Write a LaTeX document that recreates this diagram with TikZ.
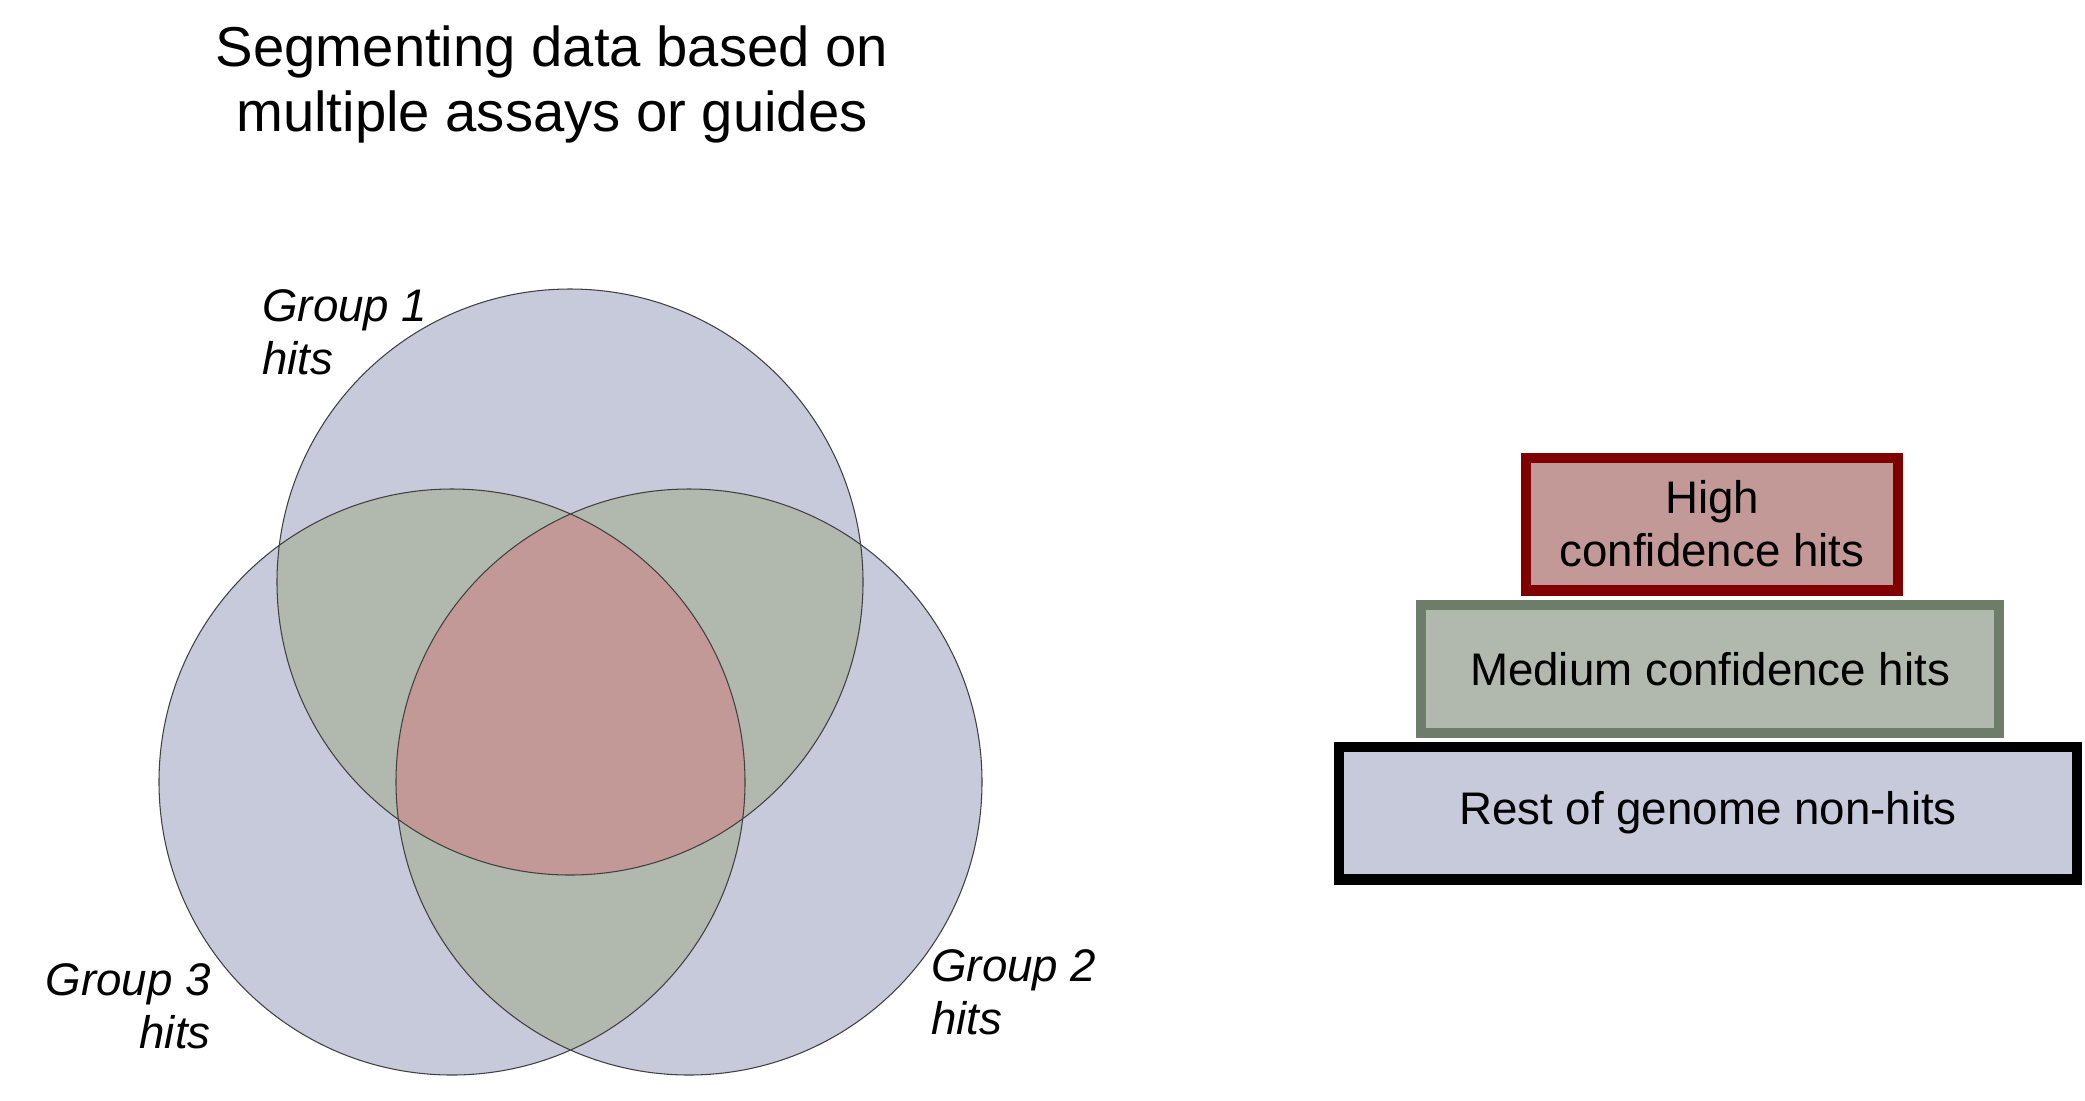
\documentclass[tikz,border=0pt]{standalone}
\usepackage{fontspec}
\setmainfont{Liberation Sans}
\usepackage{tikz}
\usetikzlibrary{positioning}

\definecolor{vennblue}{HTML}{C6CADB}
\definecolor{venngreen}{HTML}{B1B8AD}
\definecolor{vennred}{HTML}{C29997}
\definecolor{highline}{HTML}{800000}
\definecolor{medline}{HTML}{6E7D69}

\newcommand\vennr{293}

\tikzset{
  ring/.style={draw=black!75, line width=0.6pt},
  grouptext/.style={font=\fontsize{26}{30}\selectfont\itshape, inner sep=0pt},
  tier/.style={line width=5.7pt, inner sep=0pt, align=center,
    font=\fontsize{26}{30}\selectfont}
}

\begin{document}
\begin{tikzpicture}[x=0.02cm,y=-0.02cm]
\useasboundingbox (0,0) rectangle (2085,1100);

\node[align=center, font=\fontsize{32}{37}\selectfont] (title) at (552,84)
  {Segmenting data based on\\multiple assays or guides};

\coordinate (c1) at (570,582);
\coordinate (c2) at (689,782);
\coordinate (c3) at (452,782);

\fill[vennblue] (c1) circle (\vennr) (c2) circle (\vennr) (c3) circle (\vennr);
\begin{scope}
\clip (c1) circle (\vennr);
\fill[venngreen] (c2) circle (\vennr) (c3) circle (\vennr);
\end{scope}
\begin{scope}
\clip (c2) circle (\vennr);
\fill[venngreen] (c3) circle (\vennr);
\end{scope}
\begin{scope}
\clip (c1) circle (\vennr);
\clip (c2) circle (\vennr);
\fill[vennred] (c3) circle (\vennr);
\end{scope}
\draw[ring] (c1) circle (\vennr) (c2) circle (\vennr) (c3) circle (\vennr);

\node[grouptext, align=left, anchor=west] (g1) at (262,332) {Group 1\\hits};
\node[grouptext, align=left, anchor=west] (g2) at (931,992) {Group 2\\hits};
\node[grouptext, align=right, anchor=east] (g3) at (211,1006) {Group 3\\hits};

\node[tier, draw=highline, fill=vennred, minimum width=7.44cm, minimum height=2.66cm]
  (high) at (1712,524) {High\\confidence hits};
\node[tier, draw=medline, fill=venngreen, minimum width=11.56cm, minimum height=2.56cm]
  (medium) at (1710,669) {Medium confidence hits};
\node[tier, draw=black, fill=vennblue, minimum width=14.76cm, minimum height=2.66cm]
  (rest) at (1708,813) {Rest of genome non-hits};
\end{tikzpicture}
\end{document}
